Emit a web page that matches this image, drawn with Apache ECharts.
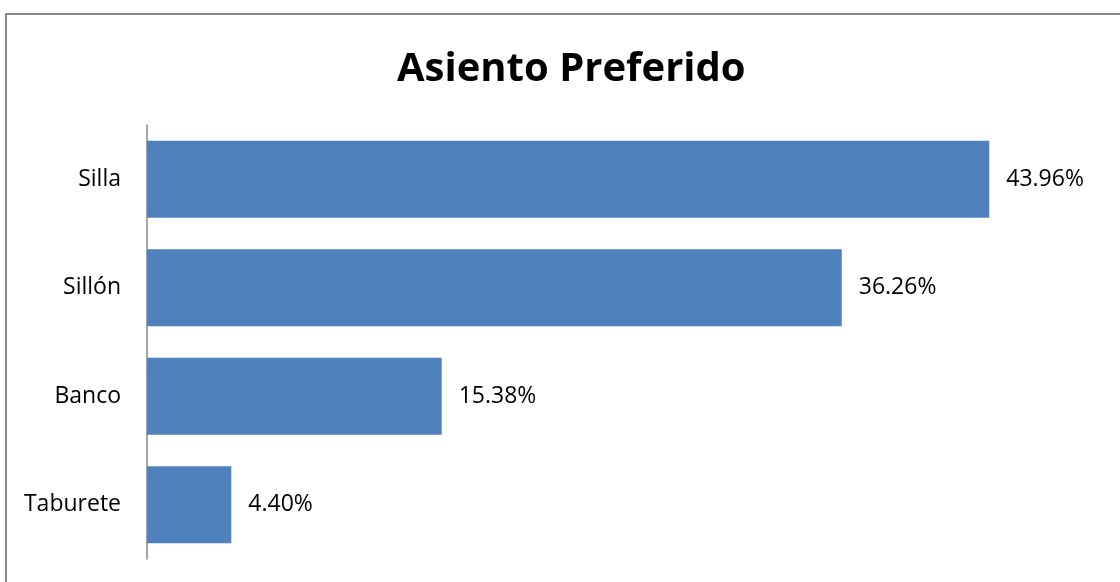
<!DOCTYPE html>
<html>
<head>
<meta charset="utf-8">
<script src="https://cdn.jsdelivr.net/npm/echarts@6/dist/echarts.min.js"></script>
<style>
  html, body { margin: 0; padding: 0; background: #fff; }
  #chart { width: 1120px; height: 582px; }
</style>
</head>
<body>
<div id="chart"></div>
<script>
// Preferred seat type, share of answers (%)
const categories = ['Taburete', 'Banco', 'Sillón', 'Silla'];
const shares = [4.40, 15.38, 36.26, 43.96];

const chart = echarts.init(document.getElementById('chart'));
chart.setOption({
  backgroundColor: '#ffffff',
  animation: false,
  title: {
    text: 'Asiento Preferido',
    left: 392,
    top: 45,
    textStyle: { fontFamily: 'Open Sans', fontWeight: 'bold', fontSize: 40, color: '#000' }
  },
  graphic: [{
    type: 'rect',
    shape: { x: 6, y: 14, width: 1130, height: 600 },
    style: { fill: 'none', stroke: '#888888', lineWidth: 2 },
    silent: true
  }],
  grid: { left: 147, right: 15, top: 125, bottom: 23, containLabel: false },
  xAxis: {
    type: 'value',
    min: 0,
    max: 50,
    show: false
  },
  yAxis: {
    type: 'category',
    data: categories,
    axisLine: { show: true, lineStyle: { color: '#888888', width: 1.5 } },
    axisTick: { show: false },
    axisLabel: { fontFamily: 'Open Sans', fontSize: 23, color: '#000', margin: 26 }
  },
  series: [{
    type: 'bar',
    data: shares,
    barCategoryGap: '29%',
    itemStyle: { color: '#4f81bd' },
    label: {
      show: true,
      position: 'right',
      distance: 17,
      fontFamily: 'Open Sans',
      fontSize: 23,
      color: '#000',
      formatter: p => p.value.toFixed(2) + '%'
    }
  }]
});
</script>
</body>
</html>
